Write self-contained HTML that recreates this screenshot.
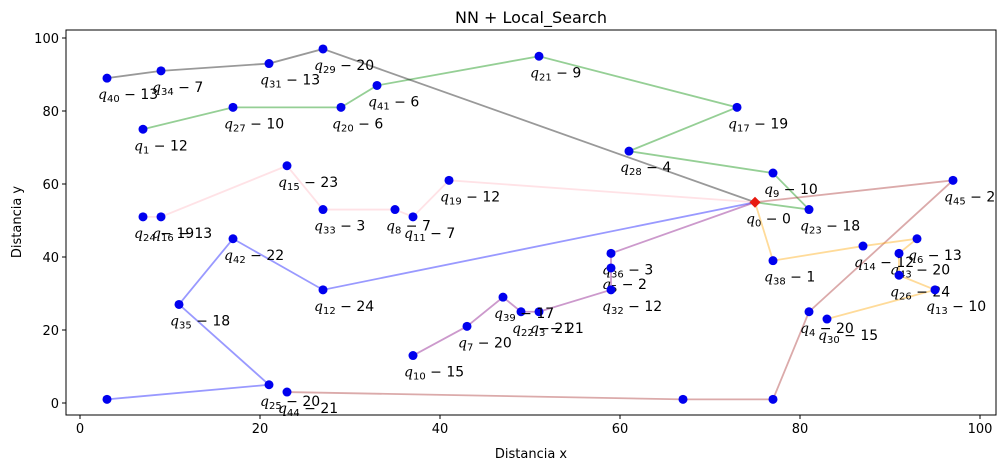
<!DOCTYPE html>
<html><head><meta charset="utf-8"><style>
body{margin:0;background:#fff}
svg{font-family:"DejaVu Sans","Liberation Sans",sans-serif}
</style></head><body>
<svg id="chart" width="1005" height="470"></svg>
<script>
const nodeIds=[0,9,23,28,17,21,41,20,27,1,29,31,34,40,19,11,8,33,15,16,24,12,42,35,25,-1,36,5,32,3,22,39,7,10,45,4,-2,-3,44,38,14,6,43,26,13,30];
const nodeX=[75,77,81,61,73,51,33,29,17,7,27,21,9,3,41,37,35,27,23,9,7,27,17,11,21,3,59,59,59,51,49,47,43,37,97,81,77,67,23,77,87,93,91,91,95,83];
const nodeY=[55,63,53,69,81,95,87,81,81,75,97,93,91,89,61,51,53,53,65,51,51,31,45,27,5,1,41,37,31,25,25,29,21,13,61,25,1,1,3,39,43,45,41,35,31,23];
const demands=[0,10,18,4,19,9,6,6,10,12,20,13,7,13,12,7,7,3,23,13,19,24,22,18,20,0,3,2,12,21,21,17,20,15,2,20,0,0,21,1,12,13,20,24,10,15];
const routes=[[0,23,9,28,17,21,41,20,27,1],[0,29,31,34,40],[0,19,11,8,33,15,16,24],[0,12,42,35,25,-1],[0,36,5,32,3,22,39,7,10],[0,45,4,-2,-3,44],[0,38,14,6,43,26,13,30]];
const routeColors=['rgba(44,160,44,0.5)','rgba(0,0,0,0.4)','rgba(255,182,193,0.4)','rgba(0,0,255,0.4)','rgba(128,0,128,0.4)','rgba(165,42,42,0.4)','rgba(255,165,0,0.4)'];
const ticks=[0,20,40,60,80,100];
const NS='http://www.w3.org/2000/svg';
const svg=document.getElementById('chart');
const L=66,R=996,T=30,B=415;
const sx=v=>80+v*9, sy=v=>403-v*3.65;
function mk(t,a,p){const e=document.createElementNS(NS,t);for(const k in a)e.setAttribute(k,a[k]);(p||svg).appendChild(e);return e;}
const title=mk('text',{x:531,y:23,'text-anchor':'middle','font-size':16});title.textContent='NN + Local_Search';


ticks.forEach(t=>{
 const g=mk('g',{});
 
 
 mk('line',{x1:sx(t),x2:sx(t),y1:B,y2:B+4,stroke:'#000'},g);
 const tx=mk('text',{x:sx(t),y:B+18,'text-anchor':'middle','font-size':13},g);tx.textContent=t;
 const g2=mk('g',{});
 
 
 mk('line',{x1:L-4,x2:L,y1:sy(t),y2:sy(t),stroke:'#000'},g2);
 const ty=mk('text',{x:L-7,y:sy(t)+5,'text-anchor':'end','font-size':13},g2);ty.textContent=t;
});
const xl=mk('text',{x:531,y:458,'text-anchor':'middle','font-size':13});xl.textContent='Distancia x';


const yl=mk('text',{x:21,y:222,'text-anchor':'middle','font-size':13,transform:'rotate(-90 21 222)'});yl.textContent='Distancia y';


const idx=id=>nodeIds.indexOf(id);
routes.forEach((r,i)=>{
 const pts=r.map(id=>{const k=idx(id);return sx(nodeX[k])+','+sy(nodeY[k]);}).join(' ');
 const pl=mk('polyline',{points:pts,fill:'none',stroke:routeColors[i],'stroke-width':1.8});
 
 
});
nodeIds.forEach((id,k)=>{
 const x=sx(nodeX[k]),y=sy(nodeY[k]);
 let m;
 if(id===0){m=mk('polygon',{points:`${x},${y-5.5} ${x+5.5},${y} ${x},${y+5.5} ${x-5.5},${y}`,fill:'#e8190e'});}
 else m=mk('circle',{cx:x,cy:y,r:4.5,fill:'#0000ee'});
 
 
 if(id>=0){
  const t=mk('text',{x:x-9,y:y+21,'font-size':14});
  
  
  mk('tspan',{'font-style':'italic','font-family':'DejaVu Serif, serif'},t).textContent='q';
  mk('tspan',{'font-size':10,dy:3},t).textContent=id;
  mk('tspan',{dy:-3},t).textContent=' \u2212 '+demands[k];
 }
});
const fr=mk('rect',{x:L,y:T,width:R-L,height:B-T,fill:'none',stroke:'#000','stroke-width':1});


</script>
</body></html>
